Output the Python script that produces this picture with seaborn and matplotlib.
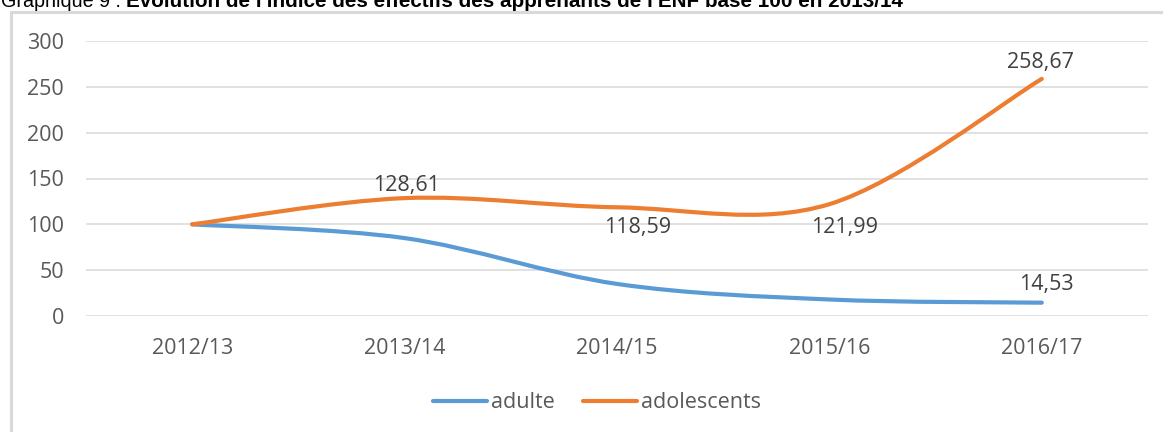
import numpy as np
import pandas as pd
import matplotlib
matplotlib.use("Agg")
import matplotlib.pyplot as plt
from matplotlib.path import Path
from matplotlib.patches import PathPatch, Rectangle
from matplotlib.lines import Line2D
import seaborn as sns

# data
annees = ["2012/13", "2013/14", "2014/15", "2015/16", "2016/17"]
adulte = [100, 85, 35, 18, 14.53]
adolescents = [100, 128.61, 118.59, 121.99, 258.67]
yticks = [0, 50, 100, 150, 200, 250, 300]

# labels shown on the chart: (serie, index, text, dx px, dy px)
etiquettes = [
    ("adolescents", 1, "128,61", 2, 13),
    ("adolescents", 2, "118,59", 21, -20),
    ("adolescents", 3, "121,99", 15, -23),
    ("adolescents", 4, "258,67", -1, 16),
    ("adulte", 4, "14,53", 5, 18),
]

df = pd.DataFrame({"annee": annees, "adulte": adulte, "adolescents": adolescents})
couleurs = {"adulte": "#5B9BD5", "adolescents": "#ED7D31"}

sns.set_theme(style="whitegrid")
plt.rcParams["font.family"] = ["Open Sans", "DejaVu Sans"]

W, H = 1163, 432
fig = plt.figure(figsize=(W / 100, H / 100), dpi=100)
ax = fig.add_axes([86 / W, 1 - 316 / H, (1148 - 86) / W, (316 - 41) / H])


def courbe_lissee(xs, ys):
    # smoothed line like excel: cubic bezier segments (catmull-rom control points)
    pts = np.column_stack([xs, ys]).astype(float)
    n = len(pts)
    verts = [pts[0]]
    codes = [Path.MOVETO]
    for i in range(n - 1):
        p0 = pts[max(i - 1, 0)]
        p1 = pts[i]
        p2 = pts[i + 1]
        p3 = pts[min(i + 2, n - 1)]
        c1 = p1 + (p2 - p0) / 6
        c2 = p2 - (p3 - p1) / 6
        verts += [c1, c2, p2]
        codes += [Path.CURVE4] * 3
    return Path(verts, codes)


xpos = np.arange(len(annees))
for serie in ["adulte", "adolescents"]:
    patch = PathPatch(courbe_lissee(xpos, df[serie].values), fill=False,
                      edgecolor=couleurs[serie], lw=3.0, capstyle="round",
                      joinstyle="round", zorder=3)
    ax.add_patch(patch)

fs = 15.5
for serie, i, txt, dx, dy in etiquettes:
    ax.annotate(txt, (xpos[i], df[serie].iloc[i]), xytext=(dx * 0.72, dy * 0.72),
                textcoords="offset points", ha="center", va="center",
                fontsize=fs, color="#404040", zorder=4)

ax.set_xlim(-0.5, len(annees) - 0.5)
ax.set_ylim(0, 300)
ax.set_xticks(xpos)
ax.set_xticklabels(annees)
ax.set_yticks(yticks)
ax.tick_params(axis="both", length=0, labelsize=fs, labelcolor="#595959")
ax.tick_params(axis="x", pad=16)
ax.tick_params(axis="y", pad=16)
ax.grid(axis="x", visible=False)
ax.grid(axis="y", color="#D9D9D9", lw=1.1)
ax.set_facecolor("white")
sns.despine(ax=ax, left=True, bottom=True)
ax.set_xlabel("")
ax.set_ylabel("")

handles = [Line2D([], [], color=couleurs[s], lw=3.0, solid_capstyle="round") for s in ["adulte", "adolescents"]]
fig.legend(handles, ["adulte", "adolescents"], loc="center", bbox_to_anchor=(597 / W, 1 - 403 / H),
           ncol=2, frameon=False, fontsize=fs, labelcolor="#595959",
           handlelength=2.5, handletextpad=0.2, columnspacing=1.3)

# chart frame (partly outside the picture)
fig.patches.append(Rectangle((10.5 / W, -0.1), 1.2, 1.1 - 12 / H, transform=fig.transFigure,
                             fill=False, edgecolor="#D9D9D9", lw=2.2, zorder=0))

# title, cut at the top as in the source
t1 = fig.text(1 / W, 1 - 7 / H, "Graphique 9 : ", fontsize=14.2, family="Liberation Sans",
              va="baseline", ha="left", color="black")
fig.canvas.draw()
bb = t1.get_window_extent()
fig.text(bb.x1 / W, 1 - 7 / H, "Évolution de l'indice des effectifs des apprenants de l'ENF base 100 en 2013/14",
         fontsize=14.9, family="Liberation Sans", fontweight="bold", va="baseline", ha="left", color="black")

fig.savefig("out.png", dpi=100, facecolor="white")
